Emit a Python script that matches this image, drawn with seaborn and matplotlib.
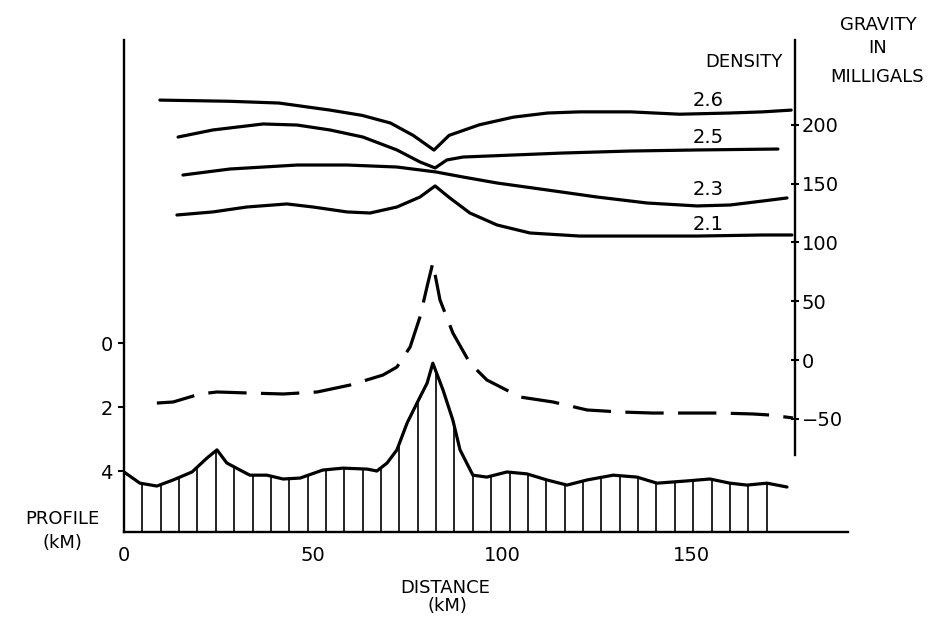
import numpy as np
import matplotlib
matplotlib.use("Agg")
import matplotlib.pyplot as plt
import seaborn as sns

# Computed gravity for each density (distance km, milligals)
d26_km = [9.5, 28, 41, 54.5, 63, 70.5, 76.5, 82, 86, 94, 103, 112, 120.5, 134, 147, 160, 169, 176.5]
d26_mgal = [221, 220, 218.5, 212.5, 208, 201.5, 191, 178.5, 191, 200, 206.5, 210, 211, 211, 209, 210, 211, 212.5]

d25_km = [14.3, 23.5, 36.8, 45.8, 54.5, 63.2, 72.2, 78.3, 82.3, 85.4, 89.7, 102.9, 116.1, 133.9, 151.6, 173.0]
d25_mgal = [189.6, 195.6, 200.7, 199.8, 195.6, 189.6, 178.6, 168.4, 163.3, 170.1, 172.6, 174.3, 176.0, 177.7, 178.6, 179.4]

d23_km = [15.6, 28.0, 45.8, 59.0, 72.2, 82.5, 89.7, 98.7, 111.9, 125.1, 138.4, 151.6, 160.3, 169.0, 175.4]
d23_mgal = [157.3, 162.4, 165.8, 165.8, 164.1, 159.9, 155.6, 150.5, 144.6, 138.6, 133.5, 131.0, 131.8, 135.2, 137.8]

d21_km = [14.0, 23.5, 32.5, 43.1, 50.0, 59.0, 65.1, 72.2, 78.3, 82.3, 86.2, 91.5, 98.7, 107.4, 120.6, 133.9, 151.6, 169.0, 176.7]
d21_mgal = [123.3, 125.9, 130.1, 132.7, 130.1, 125.9, 125.0, 130.1, 138.6, 148.0, 137.8, 125.0, 114.8, 108.0, 105.4, 105.4, 105.4, 106.3, 106.3]

density_labels = ["2.6", "2.5", "2.3", "2.1"]

# Observed gravity (dashed)
obs_km = [8.7, 13.0, 20.1, 24.6, 33.3, 42.1, 51.1, 59.8, 68.5, 72.2, 75.7, 78.3, 80.4, 81.7,
          83.6, 87.0, 91.5, 96.0, 104.8, 113.5, 122.5, 131.2, 139.9, 148.9, 157.7, 166.4, 170.9, 177.0]
obs_mgal = [-36.6, -35.7, -28.9, -27.2, -28.1, -28.9, -27.2, -21.3, -12.8, -6.0, 11.1, 36.6, 65.5, 82.5,
            51.0, 23.0, -2.6, -17.0, -31.5, -35.7, -42.5, -44.2, -45.1, -45.1, -45.1, -45.9, -46.8, -49.3]

# Topographic profile (depth in km)
prof_km = [0, 4.2, 8.7, 13.0, 18.0, 22.0, 24.6, 27.2, 30.7, 33.3, 37.8, 42.1, 46.6, 52.6, 57.9,
           64.3, 66.9, 69.6, 72.2, 74.9, 77.5, 80.2, 81.7, 84.4, 87.0, 88.9, 92.3, 96.0, 101.3,
           106.6, 111.9, 117.2, 122.5, 129.4, 135.7, 141.0, 148.9, 155.0, 160.3, 164.8, 170.1, 175.4]
prof_depth = [4.03, 4.38, 4.47, 4.28, 4.03, 3.59, 3.34, 3.75, 3.97, 4.13, 4.13, 4.25, 4.22, 3.97, 3.91,
              3.94, 4.0, 3.75, 3.34, 2.5, 1.88, 1.25, 0.63, 1.47, 2.41, 3.34, 4.13, 4.19, 4.03,
              4.09, 4.28, 4.44, 4.28, 4.13, 4.19, 4.38, 4.31, 4.25, 4.38, 4.44, 4.38, 4.5]

x_ticks = [0, 50, 100, 150]
depth_ticks = [0, 2, 4]
gravity_ticks = [200, 150, 100, 50, 0, -50]

sns.set_style("white")
plt.rcParams['font.family'] = ['DejaVu Sans']
plt.rcParams['text.color'] = 'black'
plt.rcParams['xtick.color'] = 'black'
plt.rcParams['ytick.color'] = 'black'
plt.rcParams['xtick.labelcolor'] = 'black'
plt.rcParams['ytick.labelcolor'] = 'black'

W, H = 941, 620
fig = plt.figure(figsize=(W / 100, H / 100), dpi=100)
ax = fig.add_axes([124 / W, (H - 532) / H, (848 - 124) / W, (532 - 40) / H])
gax = ax.twinx()

ink = "black"
lw = 2.3
line_kw = dict(color=ink, lw=lw, sort=False, estimator=None,
               solid_joinstyle="round", solid_capstyle="round")

# density curves
for xs, ys in [(d26_km, d26_mgal), (d25_km, d25_mgal), (d23_km, d23_mgal), (d21_km, d21_mgal)]:
    sns.lineplot(x=xs, y=ys, ax=gax, **line_kw)

# observed anomaly, dashed
sns.lineplot(x=obs_km, y=obs_mgal, ax=gax, color=ink, lw=lw, sort=False, estimator=None,
             linestyle=(0, (12, 4.5)), dash_joinstyle="round")

# profile with vertical hatching
sns.lineplot(x=prof_km, y=prof_depth, ax=ax, **line_kw)
base = 5.906
hatch_x = np.linspace(0, 170, 36)
hatch_top = np.interp(hatch_x, prof_km, prof_depth)
ax.vlines(hatch_x, hatch_top, base, color=ink, lw=1.2)

# limits
ax.set_xlim(0, (848 - 124) / 3.78)
ax.set_ylim(base, (40 - 343) / 32)
gax.set_ylim((360 - 532) / 1.176, (360 - 40) / 1.176)

# spines and ticks
for s in ["top", "right"]:
    ax.spines[s].set_visible(False)
for s in ["top", "left", "bottom"]:
    gax.spines[s].set_visible(False)
for s in ["left", "bottom"]:
    ax.spines[s].set_linewidth(1.7)
    ax.spines[s].set_color(ink)
gax.spines["right"].set_linewidth(1.7)
gax.spines["right"].set_color(ink)
gax.spines["right"].set_position(("axes", (795 - 124) / (848 - 124)))
gax.spines["right"].set_bounds((360 - 455) / 1.176, (360 - 40) / 1.176)

ax.set_xticks(x_ticks)
ax.set_xticklabels([str(t) for t in x_ticks])
ax.set_yticks(depth_ticks)
ax.set_yticklabels([str(t) for t in depth_ticks])
gax.set_yticks(gravity_ticks)
gax.set_yticklabels(["200", "150", "100", "50", "0", "\u221250"])
ax.tick_params(axis="x", direction="out", length=6, width=1.5, labelsize=14, pad=4, color=ink)
ax.tick_params(axis="y", direction="out", length=4, width=1.5, labelsize=14, pad=4, color=ink)
gax.tick_params(axis="y", direction="inout", length=6, width=1.5, labelsize=14, pad=2, color=ink)
ax.set_xlabel("")
ax.set_ylabel("")
gax.set_ylabel("")

# density labels
lab_km = (708 - 124) / 3.78
for lab, g in zip(density_labels, [221, 189.6, 144.6, 115.6]):
    gax.text(lab_km, g, lab, ha="center", va="center", fontsize=14)

# titles / axis captions
fs = 13
fig.text(62 / W, 1 - 519 / H, "PROFILE", ha="center", va="center", fontsize=fs)
fig.text(62 / W, 1 - 543 / H, "(kM)", ha="center", va="center", fontsize=fs)
fig.text(445 / W, 1 - 588 / H, "DISTANCE", ha="center", va="center", fontsize=fs)
fig.text(447 / W, 1 - 606 / H, "(kM)", ha="center", va="center", fontsize=fs)
fig.text(744 / W, 1 - 62 / H, "DENSITY", ha="center", va="center", fontsize=fs)
fig.text(878 / W, 1 - 25 / H, "GRAVITY", ha="center", va="center", fontsize=fs)
fig.text(878 / W, 1 - 48 / H, "IN", ha="center", va="center", fontsize=fs)
fig.text(877 / W, 1 - 77 / H, "MILLIGALS", ha="center", va="center", fontsize=fs)

fig.savefig("out.png", dpi=100)
